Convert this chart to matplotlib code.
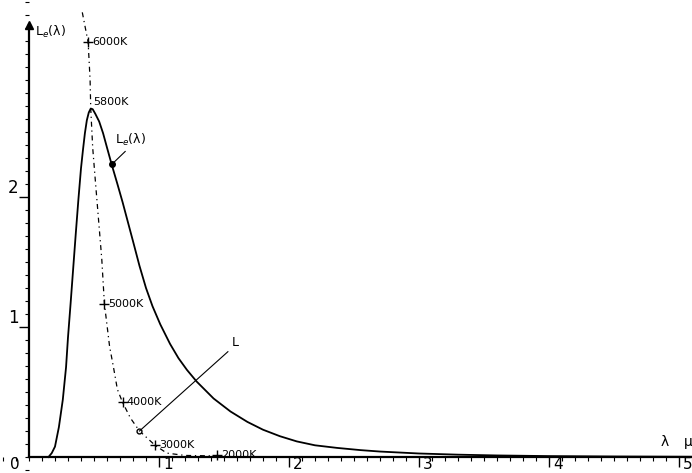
import matplotlib
matplotlib.use("Agg")
import matplotlib.pyplot as plt
from matplotlib.ticker import MultipleLocator

# spectral radiance of the 5800 K black body
lam = [0.15, 0.175, 0.20, 0.23, 0.26, 0.285, 0.30, 0.32, 0.34, 0.36, 0.38, 0.40,
       0.415, 0.43, 0.445, 0.46, 0.475, 0.49, 0.51, 0.54, 0.57, 0.60, 0.636, 0.68,
       0.72, 0.76, 0.80, 0.85, 0.90, 0.95, 1.01, 1.085, 1.15, 1.215, 1.29, 1.42, 1.55,
       1.68, 1.80, 1.93, 2.06, 2.2, 2.37, 2.55, 2.7, 3.0, 3.3, 3.6, 4.0, 4.5, 5.1]
Le = [0.0, 0.03, 0.08, 0.23, 0.44, 0.69, 0.92, 1.18, 1.45, 1.72, 1.98, 2.22,
      2.36, 2.49, 2.59, 2.65, 2.68, 2.675, 2.64, 2.58, 2.49, 2.38, 2.25, 2.10,
      1.96, 1.81, 1.66, 1.47, 1.30, 1.16, 1.02, 0.87, 0.76, 0.67, 0.58, 0.45, 0.35,
      0.27, 0.21, 0.16, 0.12, 0.09, 0.07, 0.053, 0.042, 0.027, 0.018, 0.012, 0.007, 0.004, 0.002]

# locus of the maxima (Wien) for other temperatures
lam_max = [0.41, 0.455, 0.47, 0.475, 0.49, 0.51, 0.56, 0.58, 0.62, 0.65, 0.68, 0.72,
           0.78, 0.85, 0.97, 1.06, 1.2, 1.45]
L_max = [3.42, 3.19, 2.9, 2.68, 2.38, 2.13, 1.52, 1.18, 0.85, 0.69, 0.52, 0.42,
         0.30, 0.20, 0.09, 0.03, 0.012, 0.008]

temps = ["6000K", "5000K", "4000K", "3000K", "2000K"]
temp_lam = [0.455, 0.58, 0.72, 0.97, 1.45]
temp_L = [3.19, 1.18, 0.42, 0.09, 0.015]

x_ticks = [1, 2, 3, 4, 5]
y_ticks = [1, 2]

fig = plt.figure(figsize=(6.92, 4.73), dpi=100)
ax = fig.add_axes([0, 0, 1, 1])
ax.set_xlim(-0.223, 5.1)
ax.set_ylim(-0.123, 3.515)

ax.plot(lam, Le, color="black", lw=1.3)
ax.plot(lam_max, L_max, color="black", lw=0.9, linestyle=(0, (4, 3, 1, 3)))
ax.plot(temp_lam, temp_L, "+", color="black", ms=7, mew=1)
for t, x, y in zip(temps, temp_lam, temp_L):
    ax.text(x + 0.03, y, t, fontsize=8, va="center", ha="left")
ax.text(0.49, 2.69, "5800K", fontsize=8, va="bottom", ha="left")

# L_e(lambda) pointer
ax.plot([0.636], [2.25], "o", color="black", ms=4)
ax.plot([0.636, 0.74], [2.25, 2.35], color="black", lw=0.8)
ax.text(0.66, 2.38, r"L$_e$(λ)", fontsize=9, va="bottom", ha="left")

# L pointer
ax.plot([0.85], [0.20], "o", color="black", ms=3.5, mfc="white")
ax.plot([0.85, 1.53], [0.20, 0.81], color="black", lw=0.8)
ax.text(1.56, 0.83, "L", fontsize=9, va="bottom", ha="left")

# axes through the origin
for s in ["top", "right"]:
    ax.spines[s].set_visible(False)
ax.spines["left"].set_position(("data", 0))
ax.spines["bottom"].set_position(("data", 0))
ax.spines["left"].set_bounds(0, 3.32)
ax.spines["bottom"].set_bounds(0, 5.1)
ax.spines["left"].set_linewidth(1.6)
ax.spines["bottom"].set_linewidth(1.6)
ax.plot([0], [3.32], marker="^", color="black", ms=6, clip_on=False)

ax.set_xticks(x_ticks)
ax.set_yticks(y_ticks)
ax.xaxis.set_minor_locator(MultipleLocator(0.1))
ax.yaxis.set_minor_locator(MultipleLocator(0.1))
ax.tick_params(which="major", direction="out", length=7, width=1)
ax.tick_params(which="minor", direction="out", length=3, width=0.8)
ax.set_xticklabels([])
ax.set_yticklabels([])

for v in x_ticks:
    ha = "right" if v == 5 else "left"
    xv = 5.1 if v == 5 else v + 0.03
    ax.text(xv, -0.115, str(v), fontsize=11, va="bottom", ha=ha)
ax.text(-0.07, -0.115, "0", fontsize=11, va="bottom", ha="right")
for v in y_ticks:
    ax.text(-0.08, v, str(v), fontsize=12, va="bottom", ha="right")

ax.text(0.05, 3.27, r"L$_e$(λ)", fontsize=9, va="center", ha="left")
ax.text(4.89, 0.06, "λ", fontsize=10, va="bottom", ha="center")
ax.text(5.07, 0.06, "μ", fontsize=10, va="bottom", ha="center")

fig.savefig("out.png", dpi=100)
